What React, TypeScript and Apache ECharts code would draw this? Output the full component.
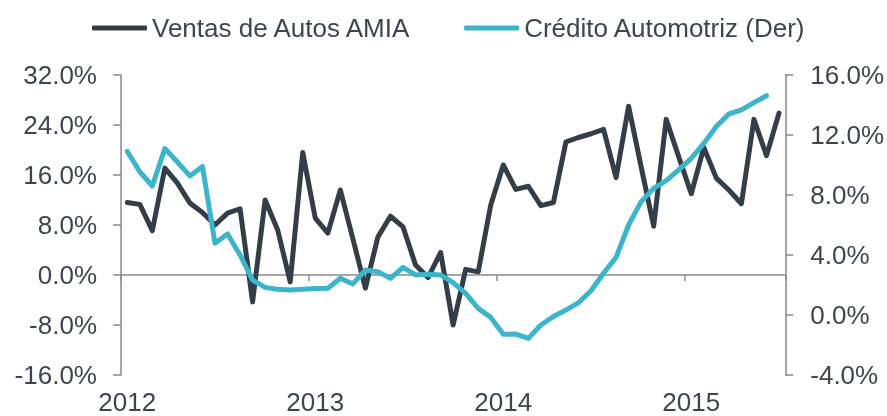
import React, { useEffect, useRef } from "react";
import * as echarts from "echarts";

// Monthly categories Jan 2012 .. May 2016 (53 months)
const months: string[] = [];
for (let y = 2012; y <= 2016; y++) {
  for (let m = 1; m <= 12; m++) {
    if (y === 2016 && m > 5) break;
    months.push(`${y}-${String(m).padStart(2, "0")}`);
  }
}

const ventasAMIA = [
  11.6, 11.3, 7.1, 17.1, 14.7, 11.5, 10.0, 8.0, 9.9, 10.6,
  -4.3, 12.0, 7.2, -1.1, 19.6, 9.1, 6.7, 13.6, 5.8, -2.1,
  6.1, 9.4, 7.7, 1.6, -0.4, 3.6, -8.0, 0.9, 0.5, 11.2,
  17.6, 13.7, 14.2, 11.1, 11.6, 21.3, 22.0, 22.6, 23.3, 15.6,
  27.0, 17.3, 7.8, 24.9, 18.9, 13.0, 20.4, 15.5, 13.6, 11.4,
  24.9, 19.1, 25.9,
];

const creditoAutomotriz = [
  10.9, 9.55, 8.6, 11.1, 10.2, 9.27, 9.9, 4.78, 5.4, 4.0,
  2.33, 1.84, 1.71, 1.67, 1.71, 1.76, 1.78, 2.45, 2.07, 3.0,
  2.89, 2.44, 3.18, 2.67, 2.71, 2.67, 2.16, 1.44, 0.44, -0.16,
  -1.29, -1.27, -1.56, -0.67, -0.1, 0.33, 0.82, 1.62, 2.78, 3.84,
  6.0, 7.56, 8.44, 8.96, 9.67, 10.44, 11.44, 12.56, 13.4, 13.67,
  14.16, 14.62,
];

const leftTicks = { min: -16, max: 32, interval: 8 };
const rightTicks = { min: -4, max: 16, interval: 4 };

const DARK = "#333e49";
const CYAN = "#3bb4cc";
const TEXT = "#3d4650";
const AXIS = "#8a8a8a";
const FONT = "'Liberation Sans', Arial, sans-serif";

export default function App() {
  const ref = useRef<HTMLDivElement>(null);
  useEffect(() => {
    if (!ref.current) return;
    const chart = echarts.init(ref.current, undefined, { renderer: "svg" });
    const pct = (v: number) => v.toFixed(1) + "%";
    chart.setOption({
      animation: false,
      textStyle: { fontFamily: FONT },
      legend: {
        left: 87,
        top: 10,
        itemWidth: 55,
        itemHeight: 5,
        itemGap: 52,
        icon: "roundRect",
        textStyle: { fontSize: 26, color: TEXT, fontFamily: FONT },
        data: [
          { name: "Ventas de Autos AMIA", itemStyle: { color: DARK } },
          { name: "Crédito Automotriz (Der)", itemStyle: { color: CYAN } },
        ],
      },
      grid: { left: 121, right: 100, top: 75, bottom: 41 },
      xAxis: [
        {
          type: "category",
          data: months,
          boundaryGap: true,
          position: "bottom",
          axisLine: { onZero: true, onZeroAxisIndex: 0, lineStyle: { color: AXIS, width: 1.5 } },
          axisTick: { show: true, interval: 14, length: 6, lineStyle: { color: AXIS, width: 1.5 } },
          axisLabel: { show: false },
          splitLine: { show: false },
        },
        {
          type: "category",
          data: months,
          boundaryGap: true,
          position: "bottom",
          axisLine: { show: false, onZero: false },
          axisTick: { show: false },
          axisLabel: {
            show: true,
            interval: 14,
            margin: 14,
            fontSize: 26,
            lineHeight: 26,
            color: TEXT,
            fontFamily: FONT,
            formatter: (v: string) => v.slice(0, 4),
          },
          splitLine: { show: false },
        },
      ],
      yAxis: [
        {
          type: "value",
          position: "left",
          min: leftTicks.min,
          max: leftTicks.max,
          interval: leftTicks.interval,
          axisLine: { show: true, lineStyle: { color: AXIS, width: 1.5 } },
          axisTick: { show: true, length: 8, lineStyle: { color: AXIS, width: 1.5 } },
          axisLabel: { margin: 24, fontSize: 26, color: TEXT, fontFamily: FONT, formatter: pct },
          splitLine: { show: false },
        },
        {
          type: "value",
          position: "right",
          min: rightTicks.min,
          max: rightTicks.max,
          interval: rightTicks.interval,
          axisLine: { show: true, lineStyle: { color: AXIS, width: 1.5 } },
          axisTick: { show: true, length: 8, lineStyle: { color: AXIS, width: 1.5 } },
          axisLabel: { margin: 25, fontSize: 26, color: TEXT, fontFamily: FONT, formatter: pct },
          splitLine: { show: false },
        },
      ],
      series: [
        {
          name: "Ventas de Autos AMIA",
          type: "line",
          xAxisIndex: 0,
          yAxisIndex: 0,
          data: ventasAMIA,
          symbol: "none",
          color: DARK,
          lineStyle: { color: DARK, width: 5, cap: "round", join: "round" },
          z: 2,
        },
        {
          name: "Crédito Automotriz (Der)",
          type: "line",
          xAxisIndex: 0,
          yAxisIndex: 1,
          data: creditoAutomotriz,
          symbol: "none",
          color: CYAN,
          lineStyle: { color: CYAN, width: 5, cap: "round", join: "round" },
          z: 3,
        },
      ],
    });
    return () => chart.dispose();
  }, []);
  return (
    <div
      ref={ref}
      style={{ position: "fixed", left: 0, top: 0, width: 887, height: 416 }}
    />
  );
}
